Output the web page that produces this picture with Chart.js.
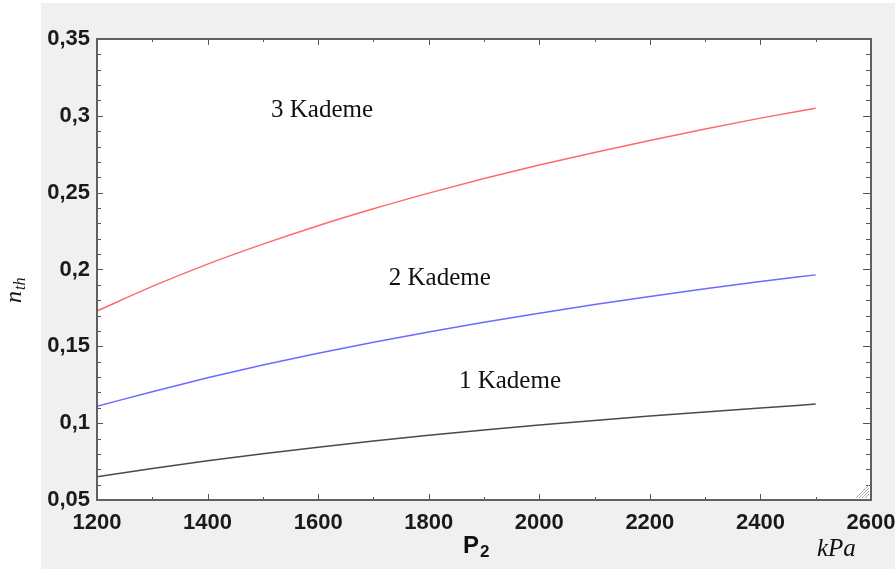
<!DOCTYPE html>
<html>
<head>
<meta charset="utf-8">
<script src="https://cdn.jsdelivr.net/npm/chart.js@4.4.1/dist/chart.umd.min.js"></script>
<style>
  html, body { margin: 0; padding: 0; background: #fff; }
  #wrap { width: 895px; height: 569px; }
</style>
</head>
<body>
<div id="wrap"><canvas id="effChart" width="895" height="569"></canvas></div>
<script>
// P2 (kPa) and thermal efficiency for 1, 2 and 3 stage compression
const pressure = [1200, 1300, 1400, 1500, 1600, 1700, 1800, 1900, 2000, 2100, 2200, 2300, 2400, 2500];
const kademe1 = [0.0652, 0.0705, 0.0755, 0.0801, 0.0844, 0.0884, 0.0921, 0.0956, 0.0988, 0.1018, 0.1046, 0.1073, 0.1099, 0.1124];
const kademe2 = [0.111, 0.1205, 0.1295, 0.1378, 0.1455, 0.1527, 0.1594, 0.1657, 0.1716, 0.1772, 0.1825, 0.1875, 0.1922, 0.1965];
const kademe3 = [0.173, 0.189, 0.2035, 0.2165, 0.2285, 0.2395, 0.2497, 0.2592, 0.268, 0.2762, 0.284, 0.2915, 0.2985, 0.305];

const xTicks = [1200, 1400, 1600, 1800, 2000, 2200, 2400, 2600];
const yTicks = [0.05, 0.1, 0.15, 0.2, 0.25, 0.3, 0.35];

const seriesNames = ['1 Kademe', '2 Kademe', '3 Kademe'];

// where each curve name sits, in axis units
const nameSpots = [
    { p: 1947, v: 0.1274 },
    { p: 1820, v: 0.1945 },
    { p: 1607, v: 0.3038 }
];

function toPoints(values) {
    return pressure.map((p, i) => ({ x: p, y: values[i] }));
}

function commaNum(v) {
    return String(Math.round(v * 100) / 100).replace('.', ',');
}

function line(ctx, x1, y1, x2, y2) {
    ctx.beginPath();
    ctx.moveTo(x1, y1);
    ctx.lineTo(x2, y2);
    ctx.stroke();
}

const framePlugin = {
    id: 'frame',
    beforeDraw(chart) {
        const { ctx, chartArea: a } = chart;
        ctx.save();
        ctx.fillStyle = '#ffffff';
        ctx.fillRect(0, 0, chart.width, chart.height);
        ctx.fillStyle = '#f0f0f0';
        ctx.fillRect(41, 3, chart.width - 41, chart.height - 3);
        ctx.fillStyle = '#ffffff';
        ctx.fillRect(a.left, a.top, a.right - a.left, a.bottom - a.top);
        ctx.restore();
    },
    afterDatasetsDraw(chart) {
        const { ctx, chartArea: a } = chart;
        const xs = chart.scales.x;
        const ys = chart.scales.y;
        ctx.save();

        // inward tick marks on all four sides
        ctx.strokeStyle = '#555555';
        ctx.lineWidth = 1;
        for (let p = 1200; p <= 2600; p += 100) {
            const px = Math.round(xs.getPixelForValue(p)) + 0.5;
            const len = p % 200 === 0 ? 6 : 3;
            line(ctx, px, a.bottom, px, a.bottom - len);
            line(ctx, px, a.top, px, a.top + len);
        }
        for (let i = 5; i <= 35; i++) {
            const py = Math.round(ys.getPixelForValue(i / 100)) + 0.5;
            const major = i % 5 === 0;
            line(ctx, a.left, py, a.left + (major ? 6 : 4), py);
            line(ctx, a.right, py, a.right - (major ? 8 : 5), py);
        }

        // frame
        ctx.strokeStyle = '#606060';
        ctx.lineWidth = 2;
        ctx.strokeRect(a.left, a.top, a.right - a.left, a.bottom - a.top);

        // little resize grip in the corner
        ctx.strokeStyle = '#b0b0b0';
        ctx.lineWidth = 1;
        for (let k = 0; k < 4; k++) {
            const d = 4 + k * 3;
            line(ctx, a.right - 2 - d, a.bottom - 2, a.right - 2, a.bottom - 2 - d);
        }

        // curve names
        ctx.fillStyle = '#111111';
        ctx.font = '25px "Liberation Serif", serif';
        ctx.textAlign = 'center';
        ctx.textBaseline = 'middle';
        nameSpots.forEach((s, i) => {
            ctx.fillText(seriesNames[i], xs.getPixelForValue(s.p), ys.getPixelForValue(s.v));
        });
        ctx.restore();
    },
    afterDraw(chart) {
        const ctx = chart.ctx;
        ctx.save();
        ctx.fillStyle = '#111111';
        ctx.textBaseline = 'alphabetic';
        ctx.textAlign = 'left';

        // x title: P2
        ctx.font = 'bold 24px "Liberation Sans", Arial, sans-serif';
        ctx.fillText('P', 463, 553);
        const pw = ctx.measureText('P').width;
        ctx.font = 'bold 17px "Liberation Sans", Arial, sans-serif';
        ctx.fillText('2', 463 + pw + 1, 557);

        // unit
        ctx.font = 'italic 25px "Liberation Serif", serif';
        ctx.fillText('kPa', 817, 556);

        // y title: n_th, rotated
        ctx.translate(21, 303);
        ctx.rotate(-Math.PI / 2);
        ctx.font = 'italic 24px "Liberation Serif", serif';
        ctx.fillText('n', 0, 0);
        const nw = ctx.measureText('n').width;
        ctx.font = 'italic 16px "Liberation Serif", serif';
        ctx.fillText('th', nw + 1, 4);
        ctx.restore();
    }
};

function drawChart() {
    const canvas = document.getElementById('effChart');
    const tickFont = { family: '"Liberation Sans", Arial, sans-serif', size: 22, weight: 'bold' };

    new Chart(canvas.getContext('2d'), {
        type: 'line',
        data: {
            datasets: [
                { label: seriesNames[0], data: toPoints(kademe1), borderColor: '#4a4a4a' },
                { label: seriesNames[1], data: toPoints(kademe2), borderColor: '#6b6bff' },
                { label: seriesNames[2], data: toPoints(kademe3), borderColor: '#ff6a6a' }
            ]
        },
        options: {
            responsive: false,
            animation: false,
            layout: { padding: { left: 41, top: 39, right: 24, bottom: 0 } },
            elements: {
                point: { radius: 0 },
                line: { borderWidth: 1.5, cubicInterpolationMode: 'monotone', fill: false }
            },
            plugins: {
                legend: { display: false },
                tooltip: { enabled: false }
            },
            scales: {
                x: {
                    type: 'linear',
                    min: 1200,
                    max: 2600,
                    afterBuildTicks: s => { s.ticks = xTicks.map(v => ({ value: v })); },
                    afterFit: s => { s.height = 69; s.paddingLeft = 0; s.paddingRight = 0; },
                    grid: { display: false, drawTicks: false },
                    border: { display: false },
                    ticks: { font: tickFont, color: '#1a1a1a', padding: 10, maxRotation: 0, autoSkip: false, callback: v => String(v) }
                },
                y: {
                    min: 0.05,
                    max: 0.35,
                    afterBuildTicks: s => { s.ticks = yTicks.map(v => ({ value: v })); },
                    afterFit: s => { s.width = 56; s.paddingTop = 0; s.paddingBottom = 0; },
                    grid: { display: false, drawTicks: false },
                    border: { display: false },
                    ticks: { font: tickFont, color: '#1a1a1a', padding: 7, callback: v => commaNum(v) }
                }
            }
        },
        plugins: [framePlugin]
    });
}

drawChart();
</script>
</body>
</html>
